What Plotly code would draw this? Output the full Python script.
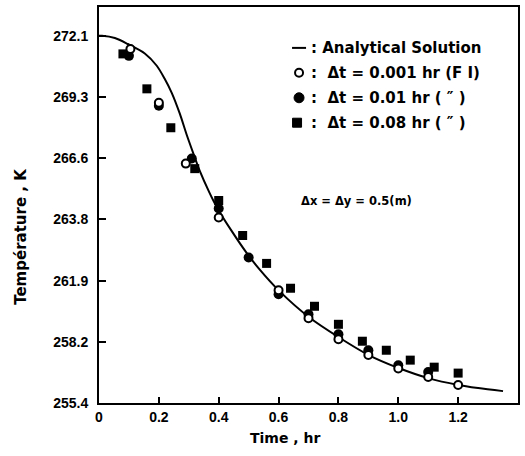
import plotly.graph_objects as go

# ---------------- data ----------------
t_analytical = [0.0, 0.01, 0.053, 0.096, 0.153, 0.193, 0.219, 0.243, 0.27, 0.293, 0.316,
                0.336, 0.369, 0.396, 0.442, 0.492, 0.535, 0.602, 0.702, 0.801, 0.901,
                1.001, 1.1, 1.2, 1.267, 1.35]
T_analytical = [272.1, 272.1, 272.0, 271.73, 271.3, 270.74, 270.16, 269.51, 268.56, 267.6, 266.72,
                265.98, 264.97, 264.25, 263.25, 262.25, 261.5, 260.5, 259.30, 258.39, 257.58,
                256.99, 256.53, 256.22, 256.08, 255.94]

t_dt0001 = [0.105, 0.2, 0.29, 0.4, 0.6, 0.7, 0.8, 0.9, 1.0, 1.1, 1.2]
T_dt0001 = [271.5, 269.06, 266.29, 263.84, 260.53, 259.26, 258.30, 257.58, 256.97, 256.58, 256.22]

t_dt001 = [0.1, 0.2, 0.31, 0.4, 0.5, 0.6, 0.7, 0.8, 0.9, 1.0, 1.1]
T_dt001 = [271.19, 268.92, 266.52, 264.25, 262.02, 260.35, 259.44, 258.53, 257.80, 257.12, 256.81]

t_dt008 = [0.08, 0.16, 0.24, 0.32, 0.40, 0.48, 0.56, 0.64, 0.72, 0.80, 0.88, 0.96, 1.04, 1.12, 1.20]
T_dt008 = [271.28, 269.69, 267.92, 266.06, 264.61, 263.02, 261.75, 260.62, 259.80, 258.98,
           258.21, 257.80, 257.35, 257.03, 256.76]

x_tickvals = [0, 0.2, 0.4, 0.6, 0.8, 1.0, 1.2]
x_ticktext = ["0", "0.2", "0.4", "0.6", "0.8", "1.0", "1.2"]
y_ticktext = ["255.4", "258.2", "261.9", "263.8", "266.6", "269.3", "272.1"]
y_tickvals = [255.4 + i * (272.1 - 255.4) / 6 for i in range(7)]

legend_rows = [": Analytical Solution",
               ":  Δt = 0.001 hr (F I)",
               ":  Δt = 0.01 hr ( ″ )",
               ":  Δt = 0.08 hr ( ″ )"]

# ---------------- figure ----------------
W, H = 525, 456
L, R, T, B = 99, 5, 6, 53
pw, ph = W - L - R, H - T - B


def px2paper(px, py):
    return (px - L) / pw, (H - B - py) / ph


fig = go.Figure()
fig.add_trace(go.Scatter(x=t_analytical, y=T_analytical, mode="lines",
                         line=dict(color="black", width=2, shape="spline", smoothing=0.8),
                         name="Analytical Solution", showlegend=False))
fig.add_trace(go.Scatter(x=t_dt008, y=T_dt008, mode="markers",
                         marker=dict(symbol="square", size=9, color="black"),
                         name="Δt = 0.08 hr", showlegend=False))
fig.add_trace(go.Scatter(x=t_dt001, y=T_dt001, mode="markers",
                         marker=dict(symbol="circle", size=10, color="black"),
                         name="Δt = 0.01 hr", showlegend=False))
fig.add_trace(go.Scatter(x=t_dt0001, y=T_dt0001, mode="markers",
                         marker=dict(symbol="circle", size=8, color="white",
                                     line=dict(color="black", width=2)),
                         name="Δt = 0.001 hr", showlegend=False))

tick_font = dict(family="Liberation Sans", size=14, color="black", weight="bold")
text_font = dict(family="DejaVu Sans", size=15, color="black", weight="bold")

fig.update_xaxes(range=[0, 1.4], tickvals=x_tickvals, ticktext=x_ticktext,
                 ticks="inside", ticklen=6, tickwidth=1.5, tickcolor="black",
                 showline=True, linecolor="black", linewidth=2, mirror=True,
                 showgrid=False, zeroline=False, tickfont=tick_font)
fig.update_yaxes(range=[255.4, 255.4 + 397 / 22.04], tickvals=y_tickvals, ticktext=y_ticktext,
                 ticks="inside", ticklen=7, tickwidth=1.5, tickcolor="black",
                 showline=True, linecolor="black", linewidth=2, mirror=True,
                 showgrid=False, zeroline=False, tickfont=tick_font, ticklabelstandoff=6)

annotations = []
x, y = px2paper(286, 438)
annotations.append(dict(x=x, y=y, xref="paper", yref="paper", text="Time , hr",
                        showarrow=False, xanchor="center", yanchor="middle",
                        font=dict(family="DejaVu Sans", size=14, color="black", weight="bold")))
x, y = px2paper(21, 236)
annotations.append(dict(x=x, y=y, xref="paper", yref="paper", text="Température , K",
                        showarrow=False, xanchor="center", yanchor="middle", textangle=-90,
                        font=text_font))
row_y = [47, 72, 97, 122]
for txt, ry in zip(legend_rows, row_y):
    x, y = px2paper(310, ry)
    annotations.append(dict(x=x, y=y, xref="paper", yref="paper", text=txt,
                            showarrow=False, xanchor="left", yanchor="middle", font=text_font))
x, y = px2paper(300, 200)
annotations.append(dict(x=x, y=y, xref="paper", yref="paper", text="Δx = Δy = 0.5(m)",
                        showarrow=False, xanchor="left", yanchor="middle",
                        font=dict(family="DejaVu Sans", size=11.5, color="black", weight="bold")))

shapes = []
sx, _ = px2paper(300, 0)
# line symbol
_, y0 = px2paper(0, row_y[0])
shapes.append(dict(type="line", xref="paper", yref="paper", xsizemode="pixel", xanchor=sx,
                   x0=-7, x1=7, y0=y0, y1=y0, line=dict(color="black", width=2)))
# open circle
_, y1 = px2paper(0, row_y[1])
shapes.append(dict(type="circle", xref="paper", yref="paper", xsizemode="pixel", ysizemode="pixel",
                   xanchor=sx, yanchor=y1, x0=-4, x1=4, y0=-4, y1=4,
                   fillcolor="white", line=dict(color="black", width=2)))
# filled circle
_, y2 = px2paper(0, row_y[2])
shapes.append(dict(type="circle", xref="paper", yref="paper", xsizemode="pixel", ysizemode="pixel",
                   xanchor=sx, yanchor=y2, x0=-5, x1=5, y0=-5, y1=5,
                   fillcolor="black", line=dict(color="black", width=1)))
# square
_, y3 = px2paper(0, row_y[3])
shapes.append(dict(type="rect", xref="paper", yref="paper", xsizemode="pixel", ysizemode="pixel",
                   xanchor=sx - 2 / pw, yanchor=y3, x0=-4.5, x1=4.5, y0=-4.5, y1=4.5,
                   fillcolor="black", line=dict(color="black", width=1)))

fig.update_layout(width=W, height=H, autosize=False,
                  margin=dict(l=L, r=R, t=T, b=B, pad=0),
                  paper_bgcolor="white", plot_bgcolor="white",
                  annotations=annotations, shapes=shapes, showlegend=False)

fig.write_html("out.html", config={"displayModeBar": False},
               post_script="document.body.style.margin='0';document.body.style.padding='0';")
